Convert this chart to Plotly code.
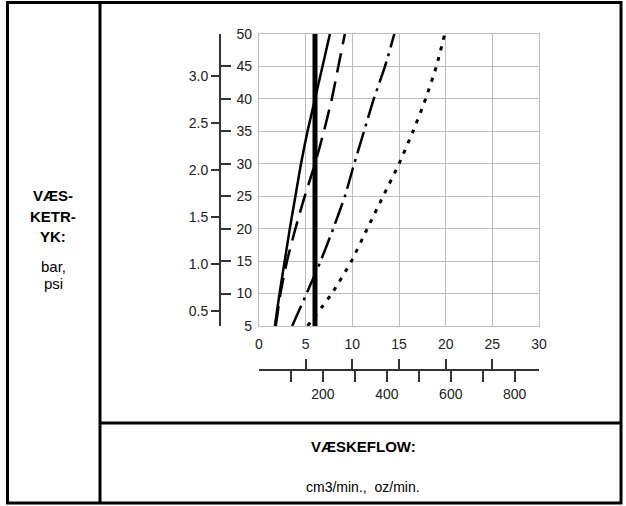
import plotly.graph_objects as go

# fluid pressure (psi) and flow (oz/min)
PSI = [5, 10, 15, 20, 25, 30, 35, 40, 45, 50]
OZ_SOLID = [1.7, 2.2, 2.75, 3.3, 3.9, 4.5, 5.2, 6.0, 6.8, 7.6]
OZ_LONGDASH = [1.8, 2.3, 3.0, 3.9, 4.9, 6.0, 6.95, 7.8, 8.5, 9.2]
OZ_DASHDOT = [3.55, 5.1, 6.6, 7.95, 9.2, 10.2, 11.25, 12.3, 13.5, 14.5]
OZ_DOTTED = [5.2, 7.8, 9.9, 11.6, 13.3, 15.0, 16.5, 17.85, 19.0, 19.9]
PSI_THICK = [5, 50]
OZ_THICK = [6.0, 6.0]

OZ_TICKS = [0, 5, 10, 15, 20, 25, 30]
PSI_TICKS = [5, 10, 15, 20, 25, 30, 35, 40, 45, 50]
BAR_TICKS = [0.5, 1.0, 1.5, 2.0, 2.5, 3.0]
CM3_TICKS = [100, 200, 300, 400, 500, 600, 700, 800]
CM3_LABELS = ['', '200', '', '400', '', '600', '', '800']

PSI_PER_BAR = 14.5038
CM3_PER_OZ = 29.2

W, H = 626, 506
FONT = 'Liberation Sans, Arial, sans-serif'


def px_x(x):
    return x / W


def px_y(y):
    return 1 - y / H


fig = go.Figure()

common = dict(mode='lines', showlegend=False, hoverinfo='skip')

# solid and dotted on the oz / psi axes
fig.add_trace(go.Scatter(x=OZ_SOLID, y=PSI, line=dict(color='black', width=2.5, shape='spline', smoothing=0.6),
                         **common))
fig.add_trace(go.Scatter(x=OZ_DOTTED, y=PSI, line=dict(color='black', width=3, dash='4px,7px',
                                                       shape='spline', smoothing=0.6), **common))
# long dash on the second oz / psi pair (the scales drawn at left and below)
fig.add_trace(go.Scatter(x=OZ_LONGDASH, y=PSI, xaxis='x2', yaxis='y2',
                         line=dict(color='black', width=2.5, dash='20px,9px', shape='spline', smoothing=0.6),
                         **common))
# dash-dot expressed in cm3/min and bar
fig.add_trace(go.Scatter(x=[v * CM3_PER_OZ for v in OZ_DASHDOT], y=[p / PSI_PER_BAR for p in PSI],
                         xaxis='x3', yaxis='y3',
                         line=dict(color='black', width=2.5, dash='22px,6px,3px,6px', shape='spline', smoothing=0.6),
                         **common))
fig.add_trace(go.Scatter(x=OZ_THICK, y=PSI_THICK, line=dict(color='black', width=5), **common))

tick_font = dict(family=FONT, size=14, color='#222')
axis_col = '#333'

fig.update_layout(
    width=W, height=H,
    template='none',
    margin=dict(l=0, r=0, t=0, b=0),
    paper_bgcolor='white', plot_bgcolor='white',
    font=dict(family=FONT, color='black'),
    xaxis=dict(domain=[px_x(259), px_x(539)], range=[0, 30], tickvals=OZ_TICKS,
               showgrid=True, gridcolor='#bdbdbd', gridwidth=1.3,
               showline=True, linecolor='#bdbdbd', linewidth=1.3, mirror=True,
               ticks='outside', ticklen=5, tickcolor='rgba(0,0,0,0)',
               tickfont=tick_font, zeroline=False),
    yaxis=dict(domain=[px_y(326), px_y(34)], range=[5, 50], tickvals=PSI_TICKS,
               showgrid=True, gridcolor='#bdbdbd', gridwidth=1.3,
               showline=True, linecolor='#bdbdbd', linewidth=1.3, mirror=True,
               ticks='outside', ticklen=3, tickcolor='rgba(0,0,0,0)',
               tickfont=tick_font, zeroline=False),
    # psi axis line with ticks pointing right
    yaxis2=dict(overlaying='y', anchor='free', position=px_x(220), side='left',
                range=[5, 50], tickvals=PSI_TICKS, showticklabels=False,
                ticks='inside', ticklen=10, tickwidth=1.5, tickcolor=axis_col,
                showline=True, linecolor=axis_col, linewidth=1.5, showgrid=False, zeroline=False),
    # bar axis
    yaxis3=dict(overlaying='y', anchor='free', position=px_x(220), side='left',
                range=[5 / PSI_PER_BAR, 50 / PSI_PER_BAR], tickvals=BAR_TICKS,
                ticktext=['%.1f' % b for b in BAR_TICKS],
                ticks='outside', ticklen=9, tickwidth=1.5, tickcolor=axis_col,
                showline=False, showgrid=False, zeroline=False, tickfont=tick_font),
    # oz ticks on the lower scale
    xaxis2=dict(overlaying='x', anchor='free', position=px_y(370), side='bottom',
                range=[0, 30], tickvals=OZ_TICKS, showticklabels=False,
                ticks='inside', ticklen=10, tickwidth=1.5, tickcolor=axis_col,
                showline=True, linecolor=axis_col, linewidth=1.5, showgrid=False, zeroline=False),
    # cm3 scale
    xaxis3=dict(overlaying='x', anchor='free', position=px_y(370), side='bottom',
                range=[0, 30 * CM3_PER_OZ], tickvals=CM3_TICKS, ticktext=CM3_LABELS,
                ticks='outside', ticklen=11, tickwidth=1.5, tickcolor=axis_col,
                showline=False, showgrid=False, zeroline=False, tickfont=tick_font),
)

# table frame
frame = dict(type='line', xref='paper', yref='paper', line=dict(color='black', width=3))
fig.add_shape(type='rect', xref='paper', yref='paper', x0=px_x(7.5), x1=px_x(621), y0=px_y(503), y1=px_y(2.5),
              line=dict(color='black', width=3))
fig.add_shape(x0=px_x(100), x1=px_x(100), y0=px_y(503), y1=px_y(2.5), **frame)
fig.add_shape(x0=px_x(100), x1=px_x(621), y0=px_y(423), y1=px_y(423), **frame)

left_lines = [('<b>VÆS-</b>', 195), ('<b>KETR-</b>', 216), ('<b>YK:</b>', 237), ('bar,', 266), ('psi', 283)]
for txt, y in left_lines:
    fig.add_annotation(text=txt, xref='paper', yref='paper', x=px_x(53), y=px_y(y), showarrow=False,
                       xanchor='center', yanchor='middle', font=dict(family=FONT, size=15, color='black'))

fig.add_annotation(text='<b>VÆSKEFLOW:</b>', xref='paper', yref='paper', x=px_x(363), y=px_y(446),
                   showarrow=False, xanchor='center', yanchor='middle', font=dict(family=FONT, size=15, color='black'))
fig.add_annotation(text='cm3/min.,  oz/min.', xref='paper', yref='paper', x=px_x(363), y=px_y(487),
                   showarrow=False, xanchor='center', yanchor='middle', font=dict(family=FONT, size=14, color='black'))

fig.write_html("out.html", config={'displayModeBar': False},
               post_script="document.body.style.margin='0';")
